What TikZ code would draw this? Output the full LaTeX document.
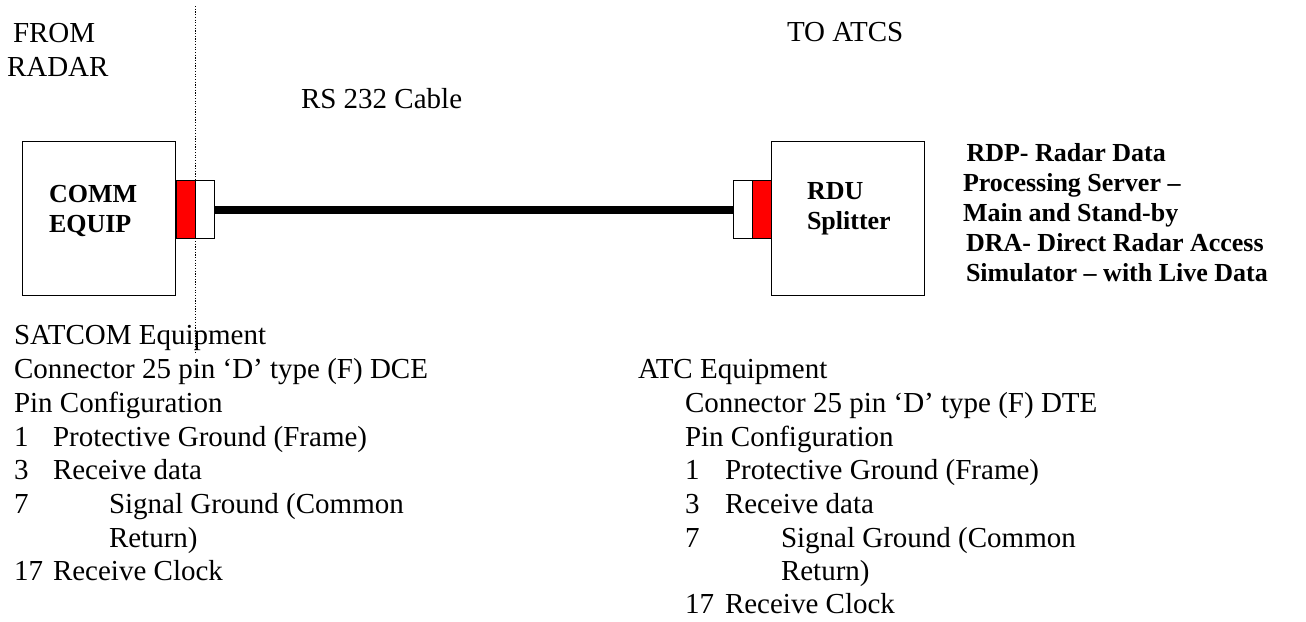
\documentclass[tikz,border=0pt]{standalone}
\usepackage{fontspec}
\setmainfont{Liberation Serif}
\newcommand{\mainsz}{\fontsize{29}{34}\selectfont}
\newcommand{\boldsz}{\fontsize{26}{30}\selectfont\bfseries}
\tikzset{
  lbl/.style={anchor=base west, inner sep=0pt, outer sep=0pt, font=\mainsz},
  blbl/.style={anchor=base west, inner sep=0pt, outer sep=0pt, font=\boldsz},
  equipbox/.style={draw, line width=1.4pt, anchor=north west, inner sep=0pt, minimum width=153pt, minimum height=154pt},
  plug/.style={draw, line width=1.2pt, anchor=north west, inner sep=0pt, minimum width=19pt, minimum height=58pt},
  redplug/.style={plug, fill=red},
  whiteplug/.style={plug, fill=white},
  cable/.style={line width=8pt},
  divider/.style={line width=1.3pt, dash pattern=on 1.2pt off 1.5pt}
}
\begin{document}
\begin{tikzpicture}[x=1pt,y=-1pt]
\useasboundingbox (0,0) rectangle (1306,621);
\fill[white] (0,0) rectangle (1306,621);

% boxes
\node[equipbox] (comm) at (22,141) {};
\node[redplug] (lred) at (176,180) {};
\node[whiteplug] (lwhite) at (195,180) {};
\node[equipbox] (rdu) at (771,141) {};
\node[redplug] (rred) at (752,180) {};
\node[whiteplug] (rwhite) at (733,180) {};

% cable
\draw[cable] (lwhite.east) -- (rwhite.west);

% divider
\coordinate (dtop) at (195.3,6);
\coordinate (dbot) at (195.3,353);
\draw[divider] (dtop) -- (dbot);

% top labels
\node[lbl] (from1) at (13,42) {FROM};
\node[lbl] (from2) at (7,76) {RADAR};
\node[lbl] (toatcs) at (787,41.7) {TO ATCS};
\node[lbl] (rs) at (301,108) {RS 232 Cable};

% box labels
\node[blbl] (comm1) at (49,202) {COMM};
\node[blbl] (comm2) at (49,232) {EQUIP};
\node[blbl] (rdu1) at (807,199) {RDU};
\node[blbl] (rdu2) at (807,229) {Splitter};

% right bold description
\node[blbl] (d1) at (966.5,161.7) {RDP- Radar Data};
\node[blbl] (d2) at (963,191.7) {Processing Server –};
\node[blbl] (d3) at (963,221.7) {Main and Stand-by};
\node[blbl] (d4) at (966,251.7) {DRA- Direct Radar Access};
\node[blbl] (d5) at (966,281.7) {Simulator – with Live Data};

% left pin configuration
\node[lbl] (a1) at (14,344) {SATCOM Equipment};
\node[lbl] (a2) at (14,378) {Connector 25 pin ‘D’ type (F) DCE};
\node[lbl] (a3) at (14,412) {Pin Configuration};
\node[lbl] (a4n) at (14,446) {1};
\node[lbl] (a4) at (53,446) {Protective Ground (Frame)};
\node[lbl] (a5n) at (14,479.5) {3};
\node[lbl] (a5) at (53,479.5) {Receive data};
\node[lbl] (a6n) at (14,513) {7};
\node[lbl] (a6) at (109,513) {Signal Ground (Common};
\node[lbl] (a7) at (109,547) {Return)};
\node[lbl] (a8n) at (14,580.5) {17};
\node[lbl] (a8) at (53,580.5) {Receive Clock};

% right pin configuration
\node[lbl] (b1) at (638,378.3) {ATC Equipment};
\node[lbl] (b2) at (685,412.3) {Connector 25 pin ‘D’ type (F) DTE};
\node[lbl] (b3) at (685,446) {Pin Configuration};
\node[lbl] (b4n) at (685,479.5) {1};
\node[lbl] (b4) at (725,479.5) {Protective Ground (Frame)};
\node[lbl] (b5n) at (685,513) {3};
\node[lbl] (b5) at (725,513) {Receive data};
\node[lbl] (b6n) at (685,547) {7};
\node[lbl] (b6) at (781,547) {Signal Ground (Common};
\node[lbl] (b7) at (781,580.5) {Return)};
\node[lbl] (b8n) at (685,613.5) {17};
\node[lbl] (b8) at (725,613.5) {Receive Clock};
\end{tikzpicture}
\end{document}
